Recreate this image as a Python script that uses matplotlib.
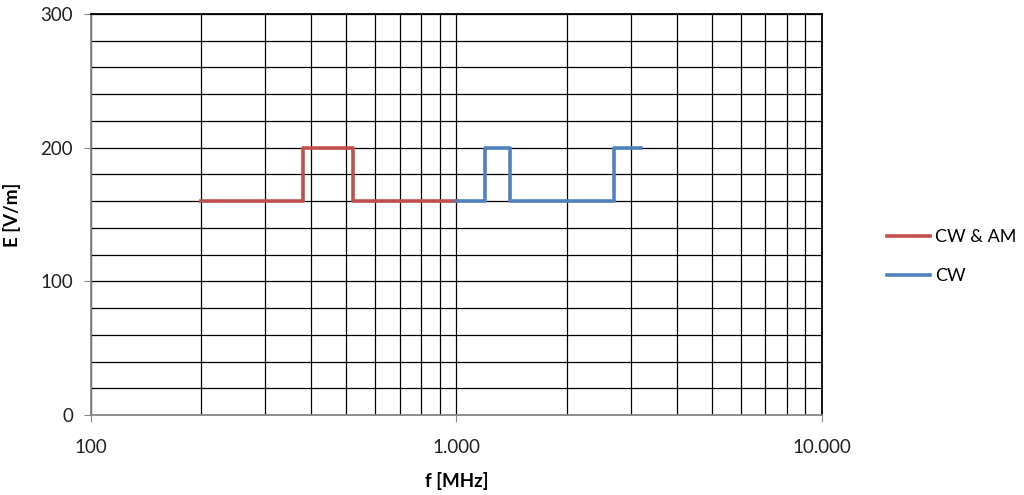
import numpy as np
import matplotlib.pyplot as plt
from matplotlib.ticker import FixedLocator, FuncFormatter

# field strength steps (frequency in MHz, E in V/m)
am_freq = [200, 380, 380, 520, 520, 1000]
am_field = [160, 160, 200, 200, 160, 160]
cw_freq = [1000, 1200, 1200, 1400, 1400, 2700, 2700, 3200]
cw_field = [160, 160, 200, 200, 160, 160, 200, 200]

x_major = [100, 1000, 10000]
x_labels = ['100', '1.000', '10.000']
y_major = [0, 100, 200, 300]

plt.rcParams['font.family'] = ['Lato', 'DejaVu Sans']

fig = plt.figure(figsize=(10.24, 4.95), dpi=100)
ax = fig.add_axes([0.0889, 0.1616, 0.7138, 0.8101])

ax.plot(am_freq, am_field, color='#C0504D', lw=2.6, label='CW & AM', zorder=3)
ax.plot(cw_freq, cw_field, color='#4F81BD', lw=2.6, label='CW', zorder=3)

ax.set_xscale('log')
ax.set_xlim(100, 10000)
ax.set_ylim(0, 300)

minor_x = [m * d for d in (100, 1000) for m in range(2, 10)]
ax.xaxis.set_major_locator(FixedLocator(x_major))
ax.xaxis.set_minor_locator(FixedLocator(minor_x))
ax.xaxis.set_major_formatter(FuncFormatter(lambda v, p: x_labels[x_major.index(int(round(v)))] if int(round(v)) in x_major else ''))
ax.yaxis.set_major_locator(FixedLocator(y_major))
ax.yaxis.set_minor_locator(FixedLocator(np.arange(20, 300, 20)))

ax.grid(True, which='both', color='black', lw=0.9)
ax.tick_params(which='minor', length=0)
ax.tick_params(which='major', length=5, color='#898989', labelsize=13.5, labelcolor='#222222')
ax.tick_params(axis='x', pad=12)
ax.tick_params(axis='y', pad=8)

for s in ('left', 'bottom'):
    ax.spines[s].set_color('#868686')
    ax.spines[s].set_linewidth(1.3)
for s in ('top', 'right'):
    ax.spines[s].set_color('black')
    ax.spines[s].set_linewidth(1.3)

ax.set_xlabel('f [MHz]', fontsize=13.5, fontweight='bold', labelpad=12)
ax.set_ylabel('E [V/m]', fontsize=13.5, fontweight='bold', labelpad=14)

ax.legend(loc='center left', bbox_to_anchor=(1.089, 0.395), frameon=False,
          fontsize=13, handlelength=2.4, handletextpad=0.25, labelspacing=1.25,
          borderpad=0, borderaxespad=0)

fig.savefig('out.png', dpi=100)
